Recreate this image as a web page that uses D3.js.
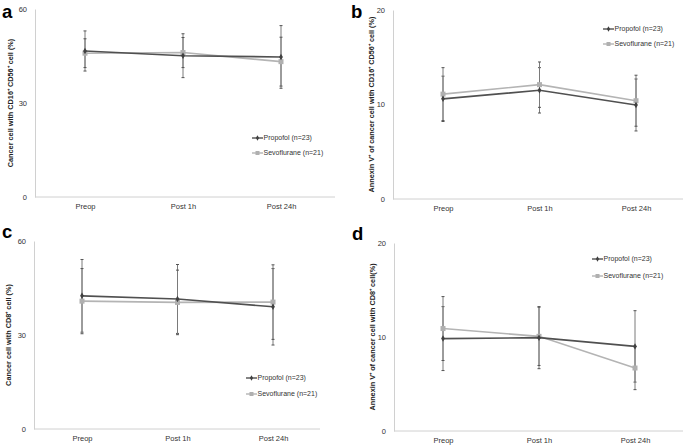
<!DOCTYPE html>
<html>
<head>
<meta charset="utf-8">
<script src="https://cdn.jsdelivr.net/npm/d3@7"></script>
<style>
  body { margin: 0; background: #fff; }
  svg { display: block; font-family: "Liberation Sans", Arial, sans-serif; }
</style>
</head>
<body>
<svg id="chart" width="685" height="446"></svg>
<script>
// ---- data ----
const categories = ["Preop", "Post 1h", "Post 24h"];
const seriesNames = ["Propofol (n=23)", "Sevoflurane (n=21)"];
const panelLetters = ["a", "b", "c", "d"];
const yLabels = [
  "Cancer cell with CD16\u207A CD56\u207A cell (%)",
  "Annexin V\u207A of cancer cell with CD16\u207A CD56\u207A cell (%)",
  "Cancer cell with CD8\u207A cell (%)",
  "Annexin V\u207A of cancer cell with CD8\u207A cell(%)"
];
const yMax = [60, 20, 60, 20];
const yTicks = [[0, 30, 60], [0, 10, 20], [0, 30, 60], [0, 10, 20]];

const propofolA = [46.6, 45.1, 44.7];
const propofolErrA = [6.4, 7.0, 10.0];
const sevoA = [45.9, 46.1, 43.2];
const sevoErrA = [4.6, 4.8, 7.8];

const propofolB = [10.6, 11.5, 9.95];
const propofolErrB = [2.4, 2.4, 2.75];
const sevoB = [11.1, 12.1, 10.4];
const sevoErrB = [2.8, 2.4, 2.7];

const propofolC = [42.5, 41.5, 39.0];
const propofolErrC = [11.6, 11.0, 12.2];
const sevoC = [40.8, 40.4, 40.5];
const sevoErrC = [10.4, 10.3, 11.9];

const propofolD = [9.83, 9.93, 9.0];
const propofolErrD = [3.4, 3.3, 3.8];
const sevoD = [10.9, 10.07, 6.7];
const sevoErrD = [3.4, 3.1, 2.3];

const panelData = [
  [[propofolA, propofolErrA], [sevoA, sevoErrA]],
  [[propofolB, propofolErrB], [sevoB, sevoErrB]],
  [[propofolC, propofolErrC], [sevoC, sevoErrC]],
  [[propofolD, propofolErrD], [sevoD, sevoErrD]]
];

// ---- layout (pixel geometry only) ----
const layout = [
  { ax0: 35, ax1: 335, cx: [85, 281], yTop: 9, yBot: 197, labelX: 10, letter: [2, 18], legend: [252, 138], legendGap: 15 },
  { ax0: 393, ax1: 683, cx: [443, 636], yTop: 10, yBot: 199, labelX: 371, letter: [351, 18], legend: [603, 29], legendGap: 15 },
  { ax0: 34, ax1: 320, cx: [82, 273], yTop: 241, yBot: 429, labelX: 8, letter: [2, 238], legend: [246, 378], legendGap: 16 },
  { ax0: 394, ax1: 683, cx: [443, 635], yTop: 243, yBot: 431, labelX: 372, letter: [352, 240], legend: [592, 259], legendGap: 17 }
];

const lineColors = ["#505050", "#b4b4b4"];
const markerColors = ["#404040", "#b0b0b0"];
const errColor = "#7a7a7a";

const svg = d3.select("#chart");

layout.forEach((L, i) => {
  const g = svg.append("g");
  const x = d3.scalePoint().domain(categories).range(L.cx);
  const y = d3.scaleLinear().domain([0, yMax[i]]).range([L.yBot, L.yTop]);

  // axes
  const xAxis = d3.axisBottom(x).tickSize(0).tickPadding(7);
  const xg = g.append("g").attr("transform", `translate(0,${L.yBot})`).call(xAxis);
  xg.select(".domain").remove();
  g.append("line").attr("x1", L.ax0).attr("x2", L.ax1).attr("y1", L.yBot).attr("y2", L.yBot)
    .attr("stroke", "#d0d0d0").attr("stroke-width", 1);
  xg.selectAll("text").attr("font-size", 7.5).attr("fill", "#333");

  const yAxis = d3.axisLeft(y).tickValues(yTicks[i]).tickSize(0).tickPadding(8);
  const yg = g.append("g").attr("transform", `translate(${L.ax0},0)`).call(yAxis);
  yg.select(".domain").attr("stroke", "#d0d0d0");
  yg.selectAll("text").attr("font-size", 7.5).attr("fill", "#333");

  // y label
  g.append("text")
    .attr("transform", `translate(${L.labelX},${(L.yTop + L.yBot) / 2}) rotate(-90)`)
    .attr("text-anchor", "middle").attr("dy", "0.35em")
    .attr("font-size", 7.3).attr("font-weight", "bold").attr("fill", "#222")
    .text(yLabels[i]);

  // panel letter
  g.append("text").attr("x", L.letter[0]).attr("y", L.letter[1])
    .attr("font-size", 18.5).attr("font-weight", "bold").attr("fill", "#000")
    .text(panelLetters[i]);

  const line = d3.line().x((d, k) => x(categories[k])).y(d => y(d));

  // error bars (drawn first)
  panelData[i].forEach(([vals, errs], s) => {
    vals.forEach((v, k) => {
      const cx = x(categories[k]);
      const hi = y(v + errs[k]), lo = y(v - errs[k]);
      g.append("line").attr("x1", cx).attr("x2", cx).attr("y1", hi).attr("y2", lo)
        .attr("stroke", errColor).attr("stroke-width", 1);
      [hi, lo].forEach(yy => g.append("line").attr("x1", cx - 1.5).attr("x2", cx + 1.5)
        .attr("y1", yy).attr("y2", yy).attr("stroke", "#555").attr("stroke-width", 1));
    });
  });

  // lines + markers
  [1, 0].forEach(s => {
    const vals = panelData[i][s][0];
    g.append("path").datum(vals).attr("d", line)
      .attr("fill", "none").attr("stroke", lineColors[s]).attr("stroke-width", 1.6);
    vals.forEach((v, k) => {
      const cx = x(categories[k]), cy = y(v);
      if (s === 1) {
        g.append("rect").attr("x", cx - 2.5).attr("y", cy - 2.5).attr("width", 5).attr("height", 5)
          .attr("fill", markerColors[1]);
      } else {
        g.append("path").attr("d", d3.symbol(d3.symbolDiamond, 12)())
          .attr("transform", `translate(${cx},${cy})`).attr("fill", markerColors[0]);
      }
    });
  });

  // legend
  seriesNames.forEach((name, s) => {
    const lx = L.legend[0], ly = L.legend[1] + s * L.legendGap;
    g.append("line").attr("x1", lx).attr("x2", lx + 11).attr("y1", ly).attr("y2", ly)
      .attr("stroke", lineColors[s]).attr("stroke-width", 1.4);
    if (s === 1) {
      g.append("rect").attr("x", lx + 3.5).attr("y", ly - 2).attr("width", 4).attr("height", 4)
        .attr("fill", markerColors[1]);
    } else {
      g.append("path").attr("d", d3.symbol(d3.symbolDiamond, 9)())
        .attr("transform", `translate(${lx + 5.5},${ly})`).attr("fill", markerColors[0]);
    }
    g.append("text").attr("x", lx + 11.5).attr("y", ly).attr("dy", "0.35em")
      .attr("font-size", 7).attr("fill", "#333").text(name);
  });
});
</script>
</body>
</html>
